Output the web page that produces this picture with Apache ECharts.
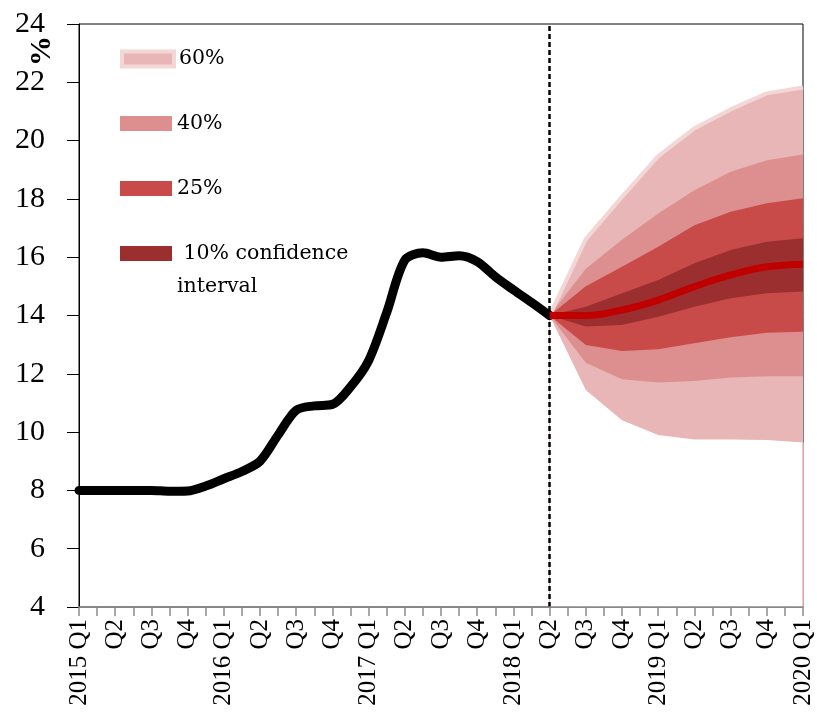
<!DOCTYPE html>
<html>
<head>
<meta charset="utf-8">
<script src="https://cdn.jsdelivr.net/npm/echarts@6/dist/echarts.min.js"></script>
<style>
  html, body { margin: 0; padding: 0; background: #fff; }
  #chart { width: 817px; height: 722px; }
</style>
</head>
<body>
<div id="chart"></div>
<script>
// ---- Data ----
const quarterLabels = ['2015 Q1','Q2','Q3','Q4','2016 Q1','Q2','Q3','Q4','2017 Q1','Q2','Q3','Q4',
                       '2018 Q1','Q2','Q3','Q4','2019 Q1','Q2','Q3','Q4','2020 Q1'];
// historical values, every half quarter from 2015 Q1 to 2018 Q2
const historical = [8.0, 8.0, 8.0, 8.0, 8.0, 7.97, 7.98, 8.15, 8.4, 8.65, 9.0, 9.9, 10.75, 10.9,
                    10.95, 11.55, 12.45, 14.1, 15.9, 16.15, 16.0, 16.05, 15.85, 15.33, 14.88, 14.45, 14.0];
// quarterly forecast, 2018 Q2 .. 2020 Q1
const central = [14.0, 14.0, 14.19, 14.53, 14.99, 15.39, 15.67, 15.76];
const upper60 = [14.0, 16.62, 18.07, 19.47, 20.42, 21.07, 21.62, 21.82];
const upper40 = [14.0, 15.6, 16.6, 17.5, 18.3, 18.93, 19.33, 19.52];
const upper25 = [14.0, 15.0, 15.67, 16.36, 17.1, 17.56, 17.85, 18.02];
const upper10 = [14.0, 14.3, 14.76, 15.22, 15.79, 16.25, 16.53, 16.65];
const lower10 = [14.0, 13.62, 13.67, 13.96, 14.3, 14.59, 14.76, 14.82];
const lower25 = [14.0, 12.99, 12.78, 12.84, 13.05, 13.25, 13.41, 13.44];
const lower40 = [14.0, 12.38, 11.81, 11.7, 11.75, 11.87, 11.92, 11.92];
const lower60 = [14.0, 11.44, 10.41, 9.9, 9.75, 9.75, 9.73, 9.64];
const yTicks = { min: 4, max: 24, step: 2 };

// ---- Styles ----
const C60 = '#e8b6b6', C40 = '#dd8f8f', C25 = '#c84b4a', C10 = '#9b2f30';
const FRINGE = '#f3d6d6';
const serifAxis = 'Liberation Serif';
const serifText = 'DejaVu Serif';

// forecast starts at 2018 Q2 (the quarter after '2018 Q1')
const fanStart = quarterLabels.indexOf('2018 Q1') + 1;
const histData = historical.map((v, i) => [i / 2, v]);
const fanData = arr => arr.map((v, i) => [fanStart + i, v]);
const lastX = fanStart + central.length - 1;

function band(name, arr, color, z, extra) {
  return Object.assign({
    name: name,
    type: 'line',
    data: fanData(arr),
    showSymbol: false,
    symbol: 'none',
    silent: true,
    z: z,
    color: color,
    lineStyle: { width: 0, color: color },
    areaStyle: { color: color, opacity: 1, origin: 'start' },
    emphasis: { disabled: true }
  }, extra || {});
}

function legendAt(name, top, color, extraItemStyle, textFmt) {
  return {
    show: true,
    orient: 'vertical',
    left: 120,
    top: top,
    padding: 0,
    selectedMode: false,
    itemWidth: 52,
    itemHeight: 15,
    icon: 'rect',
    textStyle: { fontFamily: serifText, fontSize: 20.5, color: '#000', lineHeight: 33 },
    formatter: textFmt || undefined,
    data: [{ name: name, icon: 'rect',
             itemStyle: Object.assign({ color: color, borderWidth: 0, borderColor: color }, extraItemStyle || {}) }]
  };
}

const chart = echarts.init(document.getElementById('chart'), null, { renderer: 'canvas' });

const option = {
  animation: false,
  backgroundColor: '#fff',
  grid: { left: 79, right: 14, top: 24, bottom: 115, show: true, borderColor: '#000', borderWidth: 1, backgroundColor: 'transparent' },
  xAxis: {
    type: 'value',
    min: 0,
    max: quarterLabels.length - 1,
    interval: 0.5,
    z: 10,
    splitLine: { show: false },
    axisLine: { show: true, lineStyle: { color: '#8a8a8a', width: 1.5 } },
    axisTick: { show: true, length: 9, lineStyle: { color: '#8a8a8a', width: 1.5 } },
    axisLabel: {
      rotate: 90,
      margin: 12,
      fontFamily: serifAxis,
      fontSize: 25,
      color: '#000',
      showMinLabel: true,
      showMaxLabel: true,
      formatter: v => (Number.isInteger(v) ? quarterLabels[v] : '')
    }
  },
  yAxis: {
    type: 'value',
    min: yTicks.min,
    max: yTicks.max,
    interval: yTicks.step,
    z: 10,
    splitLine: { show: false },
    axisLine: { show: true, lineStyle: { color: '#000', width: 1 } },
    axisTick: { show: true, length: 12, lineStyle: { color: '#000', width: 1 } },
    axisLabel: { margin: 34, fontFamily: serifAxis, fontSize: 30, color: '#000' }
  },
  legend: [
    legendAt('60%', 42.5, C60, { borderColor: FRINGE, borderWidth: 4 }),
    legendAt('40%', 107, C40),
    legendAt('25%', 172, C25),
    legendAt('10% confidence interval', 204, C10, null, () => '\n 10% confidence\ninterval')
  ],
  graphic: [{
    type: 'text',
    x: 42,
    y: 51,
    rotation: Math.PI / 2,
    silent: true,
    style: { text: '%', font: 'bold 30px "Liberation Serif"', fill: '#000', align: 'center', verticalAlign: 'middle' }
  }],
  series: [
    band('60%', upper60, C60, 2, { lineStyle: { width: 4, color: FRINGE } }),
    band('40%', upper40, C40, 2),
    band('25%', upper25, C25, 2),
    band('10% confidence interval', upper10, C10, 2),
    band('25%', lower10, C25, 2),
    band('40%', lower25, C40, 2),
    band('60%', lower40, C60, 2),
    band('base', lower60, '#ffffff', 2, {
      markLine: {
        silent: true, symbol: ['none', 'none'], label: { show: false },
        lineStyle: { color: '#eeb6b6', width: 1.5, type: 'solid' },
        data: [[{ coord: [lastX, yTicks.min] }, { coord: [lastX, lower60[lower60.length - 1]] }]]
      }
    }),
    {
      name: 'Historical',
      type: 'line',
      data: histData,
      smooth: 0.3,
      showSymbol: false,
      symbol: 'none',
      silent: true,
      z: 12,
      lineStyle: { color: '#000', width: 9, cap: 'round' },
      emphasis: { disabled: true },
      markLine: {
        silent: true, symbol: ['none', 'none'], label: { show: false },
        lineStyle: { color: '#000', width: 2.5, type: [5, 3] },
        data: [{ xAxis: fanStart }]
      }
    },
    {
      name: 'Central projection',
      type: 'line',
      data: fanData(central),
      smooth: 0.4,
      showSymbol: false,
      symbol: 'none',
      silent: true,
      z: 13,
      lineStyle: { color: '#c00000', width: 7 },
      emphasis: { disabled: true }
    }
  ]
};
chart.setOption(option);
</script>
</body>
</html>
